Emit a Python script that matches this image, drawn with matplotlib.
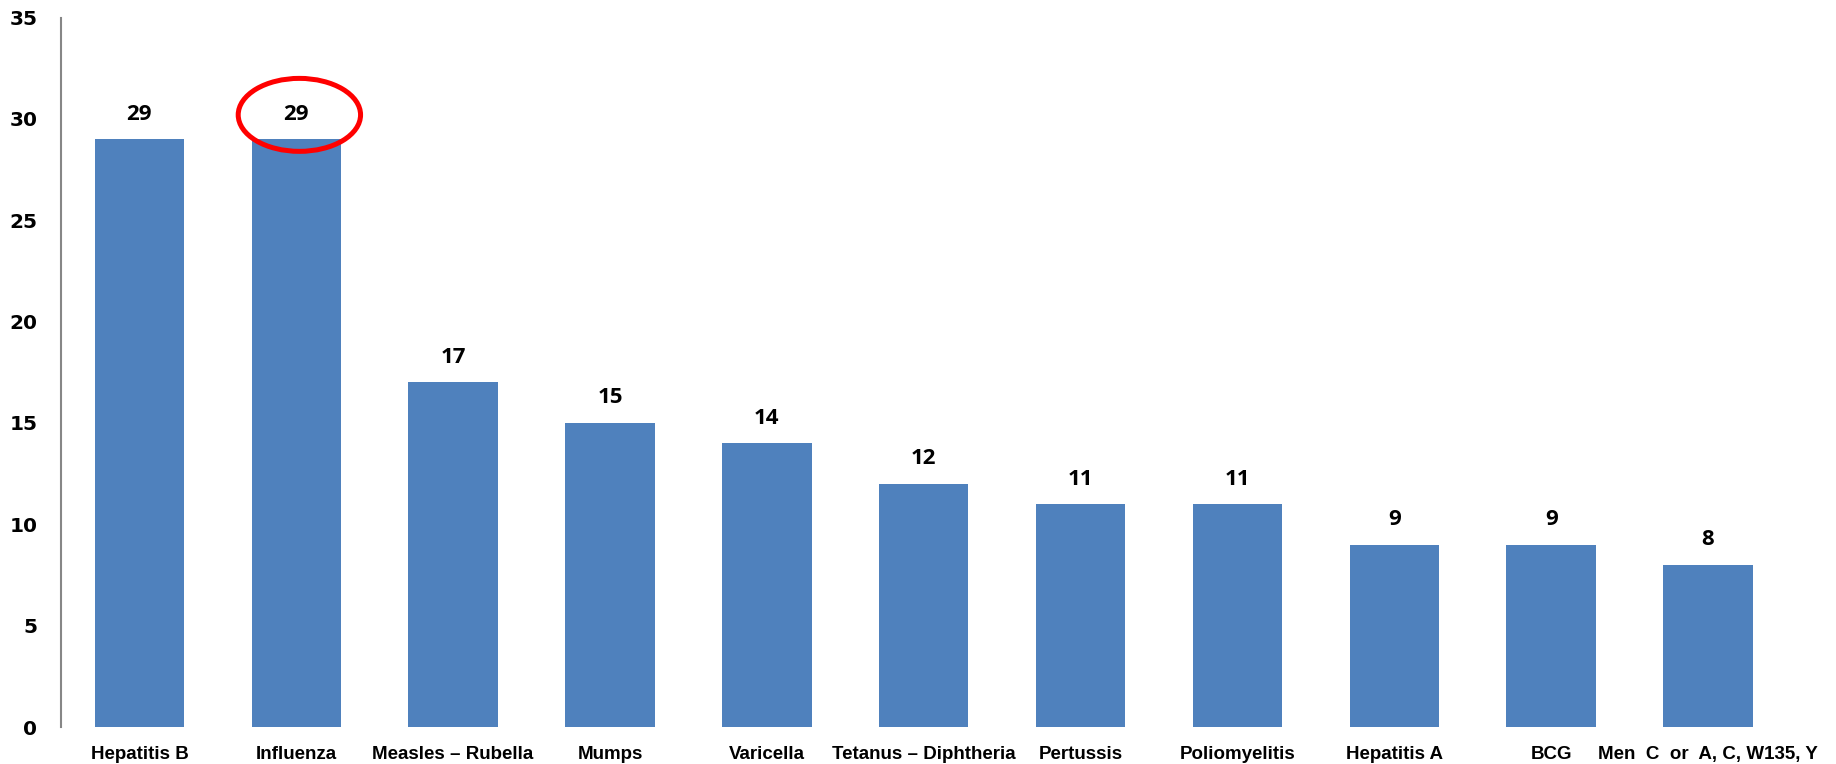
import matplotlib
matplotlib.use("Agg")
import matplotlib.pyplot as plt
from matplotlib.patches import Ellipse

categories = ["Hepatitis B", "Influenza", "Measles – Rubella", "Mumps", "Varicella",
              "Tetanus – Diphtheria", "Pertussis", "Poliomyelitis", "Hepatitis A",
              "BCG", "Men  C  or  A, C, W135, Y"]
values = [29, 29, 17, 15, 14, 12, 11, 11, 9, 9, 8]
yticks = [0, 5, 10, 15, 20, 25, 30, 35]
highlight_index = 1

fig = plt.figure(figsize=(18.36, 7.64), dpi=100)
ax = fig.add_axes([0.0332, 0.0484, 0.9398, 0.9286])

x = list(range(len(categories)))
bars = ax.bar(x, values, width=0.57, color="#4F81BD", zorder=2)

ax.set_xlim(-0.5, len(categories) - 0.5)
ax.set_ylim(0, 35)
ax.set_yticks(yticks)
ax.set_yticklabels([str(t) for t in yticks], fontsize=14.5, fontweight="bold",
                   family=["DejaVu Sans"])
ax.set_xticks(x)
ax.set_xticklabels(categories, fontsize=13.5, fontweight="bold",
                   family=["Liberation Sans Narrow", "Liberation Sans", "DejaVu Sans"])
ax.tick_params(axis="y", length=0, pad=17)
ax.tick_params(axis="x", length=0, pad=14)

for s in ["top", "right", "bottom"]:
    ax.spines[s].set_visible(False)
ax.spines["left"].set_color("#868686")
ax.spines["left"].set_linewidth(1.5)

for xi, v in zip(x, values):
    ax.annotate(str(v), (xi, v), xytext=(0, 18), textcoords="offset points",
                ha="center", va="center", fontsize=16, fontweight="bold",
                family=["Open Sans", "DejaVu Sans"])

ell = Ellipse((highlight_index + 0.02, 30.2), width=0.78, height=3.6,
              fill=False, edgecolor="#FF0000", linewidth=3.6, zorder=3,
              clip_on=False)
ax.add_patch(ell)

fig.savefig("out.png", dpi=100)
